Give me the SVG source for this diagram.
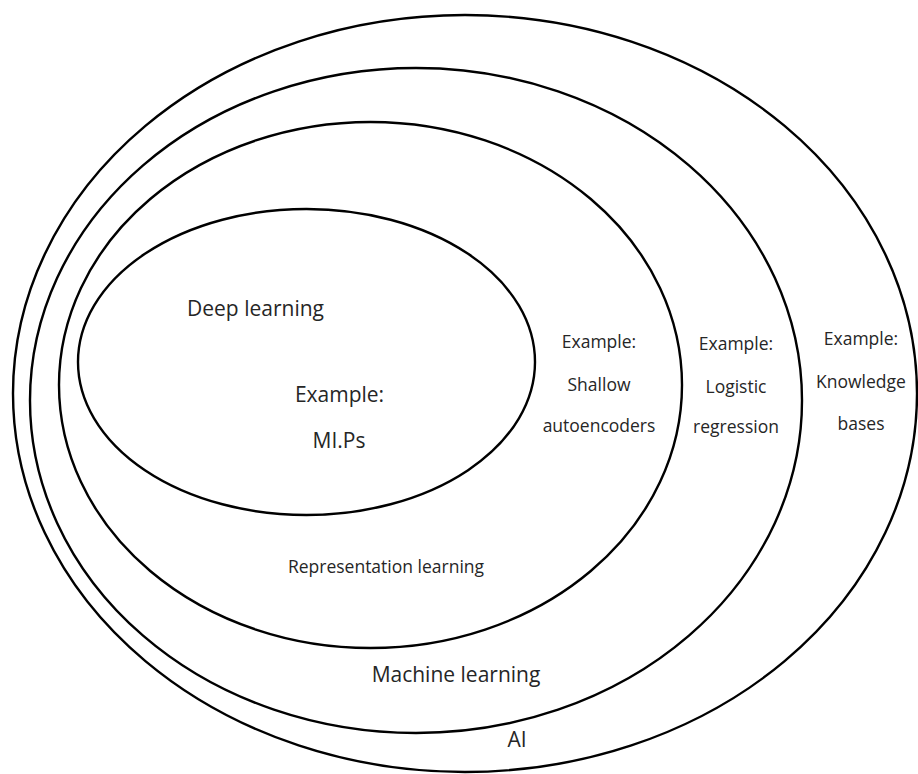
<svg xmlns="http://www.w3.org/2000/svg" width="918" height="774" viewBox="0 0 918 774">
  <style>
    .ring { fill: none; stroke: #000; stroke-width: 2.4; }
    .lbl { font-family: "Open Sans", "Liberation Sans", sans-serif; fill: #262626; text-anchor: middle; }
    .big { font-size: 21px; }
    .small { font-size: 17.5px; }
  </style>
  <rect width="918" height="774" fill="#fff"/>

  <!-- Nested sets, outermost first -->
  <g id="ai">
    <ellipse class="ring" cx="465" cy="393.5" rx="452" ry="378.5"/>
    <text class="lbl big" x="517" y="747">AI</text>
    <text class="lbl small" x="861" y="345">Example:</text>
    <text class="lbl small" x="861" y="388">Knowledge</text>
    <text class="lbl small" x="861" y="430">bases</text>
  </g>

  <g id="machine-learning">
    <ellipse class="ring" cx="416" cy="400.5" rx="386" ry="332.5"/>
    <text class="lbl big" x="456" y="682">Machine learning</text>
    <text class="lbl small" x="736" y="350">Example:</text>
    <text class="lbl small" x="736" y="393">Logistic</text>
    <text class="lbl small" x="736" y="433">regression</text>
  </g>

  <g id="representation-learning">
    <ellipse class="ring" cx="370.5" cy="385" rx="311.5" ry="263"/>
    <text class="lbl small" x="386" y="573">Representation learning</text>
    <text class="lbl small" x="599" y="348">Example:</text>
    <text class="lbl small" x="599" y="391">Shallow</text>
    <text class="lbl small" x="599" y="432">autoencoders</text>
  </g>

  <g id="deep-learning">
    <ellipse class="ring" cx="306.5" cy="362" rx="228.5" ry="153"/>
    <text class="lbl big" x="255.5" y="316">Deep learning</text>
    <text class="lbl big" x="339.5" y="402">Example:</text>
    <text class="lbl big" x="339" y="448">MI.Ps</text>
  </g>

  <g id="connectors"></g>
</svg>
